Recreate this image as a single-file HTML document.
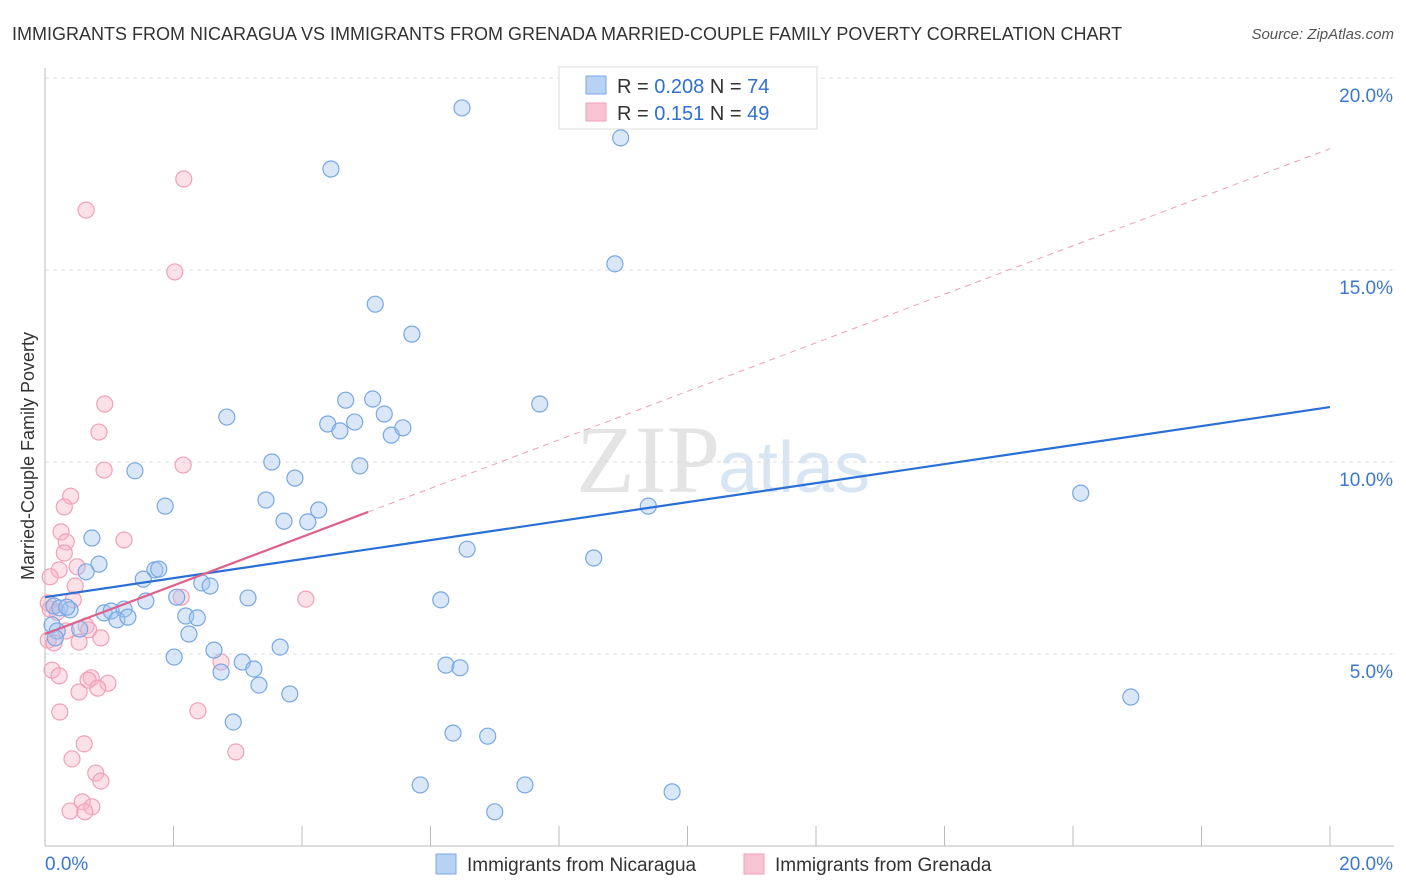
<!DOCTYPE html>
<html><head><meta charset="utf-8"><style>
body{margin:0;background:#fff;font-family:"Liberation Sans",sans-serif;}
svg{display:block}
</style></head><body>
<svg id="chart" width="1406" height="892" xmlns="http://www.w3.org/2000/svg">
<text x="12" y="40" font-size="18" fill="#333">IMMIGRANTS FROM NICARAGUA VS IMMIGRANTS FROM GRENADA MARRIED-COUPLE FAMILY POVERTY CORRELATION CHART</text>
<text x="1394" y="39" font-size="15" fill="#555" font-style="italic" text-anchor="end">Source: ZipAtlas.com</text>
<text x="720" y="492" font-size="96" fill="#e4e4e4" text-anchor="end" font-family="Liberation Serif">ZIP</text>
<text x="718" y="492" font-size="72" fill="#d8e6f4">atlas</text>
<g id="grid"></g><g id="axes"></g><g id="trends"></g><g id="points"></g>
<text transform="translate(34,456) rotate(-90)" font-size="18" fill="#333" text-anchor="middle">Married-Couple Family Poverty</text>
<g>
<rect x="559" y="67" width="258" height="62" fill="#fff" stroke="#ddd"/>
<rect x="586" y="76" width="20" height="18" fill="#b8d2f4" stroke="#7aaae6"/>
<rect x="586" y="103" width="20" height="18" fill="#f8c4d4" stroke="#f0a0b8"/>
<text x="617" y="93" font-size="20" fill="#333">R = <tspan fill="#3070d0">0.208</tspan>   N = <tspan fill="#3070d0">74</tspan></text>
<text x="617" y="120" font-size="20" fill="#333">R =  <tspan fill="#3070d0"> 0.151</tspan>   N = <tspan fill="#3070d0">49</tspan></text>
</g>
<g>
<rect x="436" y="854" width="20" height="20" fill="#b8d2f4" stroke="#7aaae6"/>
<text x="467" y="871" font-size="19" fill="#333">Immigrants from Nicaragua</text>
<rect x="744" y="854" width="20" height="20" fill="#f8c4d4" stroke="#f0a0b8"/>
<text x="775" y="871" font-size="19" fill="#333">Immigrants from Grenada</text>
</g>
</svg>
<script>
const yTicks=[5,10,15,20];
const yTickLabels=["5.0%","10.0%","15.0%","20.0%"];
const xTicks=[0,2,4,6,8,10,12,14,16,18,20];
const blueX=[6.49,10.38,8.96,4.45,8.87,5.14,5.71,4.68,5.10,7.70,5.28,2.83,4.40,4.59,4.82,5.39,5.57,3.53,1.40,4.90,3.89,3.44,1.87,4.26,3.72,4.09,16.12,9.39,0.73,6.57,8.54,0.84,0.64,1.71,1.77,1.53,2.44,2.57,2.05,3.16,6.16,1.57,0.14,0.23,0.39,0.34,0.92,1.03,1.23,2.19,2.37,1.12,1.29,0.11,0.54,0.19,2.24,3.66,2.63,2.01,3.07,3.25,6.24,6.46,2.74,3.33,3.81,16.90,2.93,6.35,6.89,5.84,7.47,9.76,7.00,0.16];
const blueY=[19.22,18.98,18.44,17.63,15.16,14.11,13.33,11.61,11.64,11.51,11.25,11.17,10.99,10.81,11.04,10.70,10.89,10.00,9.77,9.90,9.58,9.01,8.85,8.75,8.46,8.44,9.19,8.85,8.02,7.73,7.50,7.34,7.14,7.19,7.21,6.95,6.85,6.77,6.48,6.46,6.41,6.38,6.25,6.20,6.15,6.22,6.07,6.12,6.17,5.99,5.94,5.89,5.96,5.76,5.65,5.60,5.52,5.18,5.10,4.92,4.79,4.61,4.71,4.64,4.53,4.19,3.96,3.88,3.23,2.94,2.86,1.59,1.59,1.41,0.89,5.42];
const pinkX=[2.16,0.64,2.02,0.93,0.84,2.15,0.92,0.40,0.30,0.25,1.23,0.33,0.30,0.22,0.50,0.08,0.47,2.12,4.06,0.44,0.05,0.08,0.19,0.64,0.33,0.68,0.87,0.05,0.14,0.53,2.74,0.11,0.22,0.72,0.67,0.98,0.82,0.53,2.38,0.23,0.61,0.42,2.97,0.79,0.87,0.58,0.73,0.39,0.62];
const pinkY=[17.37,16.56,14.95,11.51,10.78,9.92,9.79,9.11,8.83,8.18,7.97,7.92,7.63,7.19,7.27,7.01,6.77,6.48,6.43,6.41,6.33,6.17,6.09,5.73,5.60,5.63,5.42,5.36,5.29,5.31,4.79,4.58,4.43,4.38,4.32,4.24,4.11,4.01,3.52,3.49,2.66,2.27,2.45,1.90,1.69,1.15,1.02,0.91,0.89];
const blueTrend=[6.48,11.43];
const pinkTrend=[5.52,8.70,18.16];
const pinkTrendX=[0,5.03,20];
const X=v=>45+v*64.25, Y=v=>846-v*38.4;
const NS="http://www.w3.org/2000/svg";
function mk(t,a,p){const e=document.createElementNS(NS,t);for(const k in a)e.setAttribute(k,a[k]);p.appendChild(e);return e;}
const grid=document.getElementById('grid'),axes=document.getElementById('axes'),tr=document.getElementById('trends'),pts=document.getElementById('points');
yTicks.forEach((t,i)=>{
 const l=mk('line',{x1:45,x2:1394,y1:Y(t),y2:Y(t),stroke:'#ddd','stroke-dasharray':'4,4'},grid);
 
 
 const tx=mk('text',{x:1393,y:Y(t)+24,'font-size':19,fill:'#3a78d0','text-anchor':'end'},grid);
 tx.textContent=yTickLabels[i];
 
 
});
const ya=mk('line',{x1:45,x2:45,y1:68,y2:846,stroke:'#bbb'},axes);


const xa=mk('line',{x1:45,x2:1394,y1:846,y2:846,stroke:'#bbb'},axes);


xTicks.forEach(t=>{
 const l=mk('line',{x1:X(t),x2:X(t),y1:826,y2:846,stroke:'#bbb'},axes);
 
 
});
const xl0=mk('text',{x:45,y:870,'font-size':19,fill:'#3a78d0'},axes);xl0.textContent='0.0%';


const xl1=mk('text',{x:1393,y:870,'font-size':19,fill:'#3a78d0','text-anchor':'end'},axes);xl1.textContent='20.0%';


const pd=mk('line',{x1:X(pinkTrendX[1]),y1:Y(pinkTrend[1]),x2:X(pinkTrendX[2]),y2:Y(pinkTrend[2]),stroke:'#eaa0b8','stroke-dasharray':'6,5','stroke-width':1},tr);


function circ(xs,ys,fill,stroke,name){xs.forEach((x,i)=>{
 const c=mk('circle',{cx:X(x),cy:Y(ys[i]),r:8,fill:fill,stroke:stroke,'stroke-width':1.2},pts);
 
 
});}
circ(pinkX,pinkY,'rgba(248,180,200,0.4)','#f0a0b8','grenada-point');
circ(blueX,blueY,'rgba(160,196,240,0.4)','#78a8e4','nicaragua-point');
const bt=mk('line',{x1:X(0),y1:Y(blueTrend[0]),x2:X(20),y2:Y(blueTrend[1]),stroke:'#2a6fd6','stroke-width':2.2},pts);


const pt=mk('line',{x1:X(pinkTrendX[0]),y1:Y(pinkTrend[0]),x2:X(pinkTrendX[1]),y2:Y(pinkTrend[1]),stroke:'#e0608c','stroke-width':2.2},pts);


</script>
</body></html>
